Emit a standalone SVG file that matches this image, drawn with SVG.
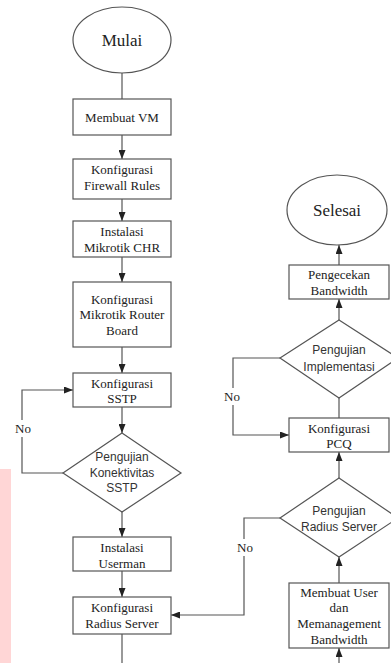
<svg xmlns="http://www.w3.org/2000/svg" width="391" height="663" viewBox="0 0 391 663">
<defs>
<marker id="arr" markerUnits="userSpaceOnUse" markerWidth="9" markerHeight="7" refX="9" refY="3.5" orient="auto">
<path d="M0,0 L9,3.5 L0,7 z" fill="#222"/>
</marker>
</defs>
<style>
.box{fill:#fff;stroke:#555;stroke-width:1.2}
.t{font-family:'Liberation Serif','Times New Roman','DejaVu Serif',serif;font-size:13px;fill:#222;text-anchor:middle}
.big{font-size:17px}
.s{font-family:'Liberation Sans',Arial,sans-serif;font-size:12px;fill:#333;text-anchor:middle}
.ln{fill:none;stroke:#555;stroke-width:1.2}
.a{marker-end:url(#arr)}
.lbl{fill:#fff}
</style>
<rect width="391" height="663" fill="#fff"/>
<rect x="0" y="469" width="11" height="194" fill="#ffd6d6"/>

<g id="connectors">
<path class="ln" d="M122,73 V99"/>
<path class="ln a" d="M122,135 V159"/>
<path class="ln a" d="M122,199 V221"/>
<path class="ln a" d="M122,257 V282"/>
<path class="ln a" d="M122,347 V373"/>
<path class="ln a" d="M122,407 V433"/>
<path class="ln a" d="M63,473 H22 V390 H73"/>
<path class="ln a" d="M122,512 V537"/>
<path class="ln a" d="M122,571 V597"/>
<path class="ln" d="M122,634 V663"/>
<path class="ln a" d="M280,518 H244 V615 H171"/>
<path class="ln a" d="M339,663 V648"/>
<path class="ln a" d="M339,583 V557"/>
<path class="ln a" d="M339,478 V452"/>
<path class="ln" d="M339,418 V398"/>
<path class="ln a" d="M280,358 H233 V435 H289"/>
<path class="ln a" d="M339,320 V299"/>
<path class="ln a" d="M339,265 V245"/>
<rect class="lbl" x="13" y="420" width="20" height="17"/>
<text class="t" x="23" y="433" font-family="'Liberation Serif', serif">No</text>
<rect class="lbl" x="222" y="388" width="20" height="17"/>
<text class="t" x="232" y="401">No</text>
<rect class="lbl" x="235" y="539" width="20" height="17"/>
<text class="t" x="245" y="552">No</text>
</g>

<g id="mulai">
<ellipse class="box" cx="122" cy="40" rx="49" ry="33"/>
<text class="t big" x="122" y="46">Mulai</text>
</g>
<g id="membuat-vm">
<rect class="box" x="73" y="99" width="98" height="36"/>
<text class="t" x="122" y="121.5">Membuat VM</text>
</g>
<g id="firewall">
<rect class="box" x="73" y="159" width="98" height="40"/>
<text class="t" x="122" y="173.5">Konfigurasi</text>
<text class="t" x="122" y="189.5">Firewall Rules</text>
</g>
<g id="chr">
<rect class="box" x="73" y="221" width="98" height="36"/>
<text class="t" x="122" y="235.5">Instalasi</text>
<text class="t" x="122" y="251.5">Mikrotik CHR</text>
</g>
<g id="routerboard">
<rect class="box" x="73" y="282" width="98" height="65"/>
<text class="t" x="122" y="303.5">Konfigurasi</text>
<text class="t" x="122" y="319">Mikrotik Router</text>
<text class="t" x="122" y="334.5">Board</text>
</g>
<g id="sstp">
<rect class="box" x="73" y="373" width="98" height="34"/>
<text class="t" x="122" y="387.5">Konfigurasi</text>
<text class="t" x="122" y="402.5">SSTP</text>
</g>
<g id="uji-sstp">
<polygon class="box" points="122,433 181,473 122,512 63,473"/>
<text class="s" x="122" y="461">Pengujian</text>
<text class="s" x="122" y="477">Konektivitas</text>
<text class="s" x="122" y="492">SSTP</text>
</g>
<g id="userman">
<rect class="box" x="73" y="537" width="98" height="34"/>
<text class="t" x="122" y="551.5">Instalasi</text>
<text class="t" x="122" y="567.5">Userman</text>
</g>
<g id="radius">
<rect class="box" x="73" y="597" width="98" height="37"/>
<text class="t" x="122" y="611.5">Konfigurasi</text>
<text class="t" x="122" y="627.5">Radius Server</text>
</g>

<g id="selesai">
<ellipse class="box" cx="337" cy="210" rx="50" ry="35"/>
<text class="t big" x="337" y="216">Selesai</text>
</g>
<g id="pengecekan">
<rect class="box" x="289" y="265" width="100" height="34"/>
<text class="t" x="339" y="278.5">Pengecekan</text>
<text class="t" x="339" y="294.5">Bandwidth</text>
</g>
<g id="uji-implementasi">
<polygon class="box" points="339,320 398,358 339,398 280,358"/>
<text class="s" x="339" y="354">Pengujian</text>
<text class="s" x="339" y="371">Implementasi</text>
</g>
<g id="pcq">
<rect class="box" x="289" y="418" width="100" height="34"/>
<text class="t" x="339" y="432.5">Konfigurasi</text>
<text class="t" x="339" y="447.5">PCQ</text>
</g>
<g id="uji-radius">
<polygon class="box" points="339,478 398,518 339,557 280,518"/>
<text class="s" x="339" y="515">Pengujian</text>
<text class="s" x="339" y="531">Radius Server</text>
</g>
<g id="membuat-user">
<rect class="box" x="289" y="583" width="100" height="65"/>
<text class="t" x="339" y="596.5">Membuat User</text>
<text class="t" x="339" y="611.5">dan</text>
<text class="t" x="339" y="627.5">Memanagement</text>
<text class="t" x="339" y="643.5">Bandwidth</text>
</g>
</svg>
